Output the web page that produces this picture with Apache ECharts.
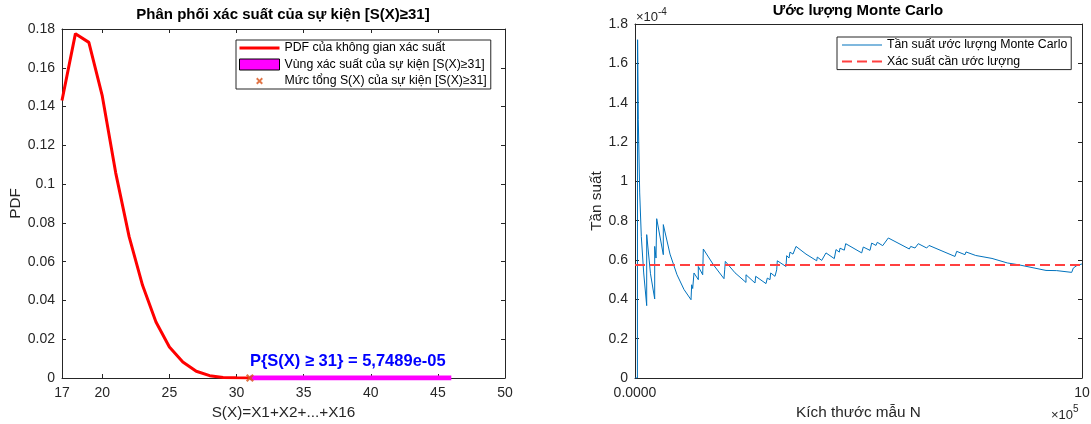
<!DOCTYPE html>
<html>
<head>
<meta charset="utf-8">
<script src="https://cdn.jsdelivr.net/npm/echarts@6/dist/echarts.min.js"></script>
<style>
  html, body { margin: 0; padding: 0; background: #fff; }
  #chart { width: 1091px; height: 424px; }
</style>
</head>
<body>
<div id="chart"></div>
<script>
  // ---- left panel: PDF of S(X) ----
  const pdfX = [17, 18, 19, 20, 21, 22, 23, 24, 25, 26, 27, 28, 29, 30, 31];
  const pdfY = [0.1431, 0.1776, 0.1731, 0.1455, 0.1058, 0.0729, 0.0478, 0.0289, 0.0160, 0.0083, 0.0035, 0.0012, 0.0003, 0.0001, 0.00003];
  const eventFrom = 31;
  const eventTo = 46;
  const eventProbText = 'P{S(X) ≥ 31} = 5,7489e-05';
  const annotY = 0.0085;
  const leftXLabels = [17, 20, 25, 30, 35, 40, 45, 50];
  const leftXTicks = [20, 25, 30, 35, 40, 45];

  // ---- right panel: running Monte Carlo frequency (y in units of 1e-4) ----
  const mcN = [
    0, 5400, 5800, 7383, 10515, 14094, 19463, 26174, 26174, 34675,
    44071, 44071, 46980, 48545, 63310, 63310, 78300, 93960, 109620, 125280,
    126840, 129080, 131990, 141610, 141610, 151450, 152790, 175610, 199100, 200670,
    202010, 223710, 248320, 248320, 268450, 270020, 293060, 295970, 302010, 303570,
    313190, 317000, 318340, 337800, 339370, 344520, 346760, 353460, 360180, 382550,
    406480, 407830, 417670, 427290, 445860, 449660, 457040, 458610, 468230, 471360,
    507150, 510730, 525720, 529520, 539140, 542050, 554130, 566660, 613640, 616770,
    626380, 633770, 652560, 657720, 686800, 715880, 719680, 738250, 740490, 762190,
    764400, 798640, 832870, 835120, 857480, 861280, 919450, 922360, 943390, 946970,
    976950, 980530, 988110, 1000000
  ];
  const mcFreq = [
    0, 0, 1.72, 1.313, 0.941, 0.72, 0.534, 0.368, 0.729, 0.53,
    0.402, 0.669, 0.61, 0.81, 0.627, 0.78, 0.63, 0.525, 0.45, 0.398,
    0.474, 0.455, 0.534, 0.50, 0.567, 0.525, 0.656, 0.575, 0.505, 0.55,
    0.593, 0.535, 0.486, 0.525, 0.483, 0.517, 0.48, 0.508, 0.50, 0.534,
    0.517, 0.55, 0.596, 0.567, 0.622, 0.61, 0.64, 0.63, 0.669, 0.63,
    0.596, 0.615, 0.598, 0.636, 0.607, 0.653, 0.64, 0.66, 0.65, 0.683,
    0.636, 0.666, 0.649, 0.686, 0.674, 0.69, 0.673, 0.712, 0.656, 0.669,
    0.661, 0.683, 0.661, 0.674, 0.646, 0.618, 0.644, 0.627, 0.641, 0.623,
    0.632, 0.608, 0.585, 0.593, 0.576, 0.58, 0.547, 0.556, 0.546, 0.552,
    0.537, 0.559, 0.571, 0.58
  ];
  const trueProb = 0.57489;
  const nMax = 1000000;

  const FONT = 'Liberation Sans, Arial, Helvetica, sans-serif';
  const AX = '#262626';
  // thick "x" marker, and a padded copy so the legend icon stays small
  const xMarker = 'path://M0,2L2,0L5,3L8,0L10,2L7,5L10,8L8,10L5,7L2,10L0,8L3,5Z';
  const xMarkerLegend = 'path://M-3,-3M13,13M0,2L2,0L5,3L8,0L10,2L7,5L10,8L8,10L5,7L2,10L0,8L3,5Z';
  // legend line samples (plain line, no symbol in the middle)
  const iconThick = 'path://M0,0H40V3H0Z';
  const iconThin = 'path://M0,0H40V1H0Z';
  const iconDash = 'path://M0,0H10V2H0ZM15,0H25V2H15ZM30,0H40V2H30Z';

  const nameL1 = 'PDF của không gian xác suất';
  const nameL2 = 'Vùng xác suất của sự kiện [S(X)≥31]';
  const nameL3 = 'Mức tổng S(X) của sự kiện [S(X)≥31]';
  const nameR1 = 'Tần suất ước lượng Monte Carlo';
  const nameR2 = 'Xác suất cần ước lượng';

  function boxAxis(extra) {
    return Object.assign({
      type: 'value',
      axisLine: { show: true, onZero: false, lineStyle: { color: AX, width: 1 } },
      axisTick: { show: true, inside: true, length: 4, lineStyle: { color: AX } },
      axisLabel: { show: false },
      splitLine: { show: false },
      nameTextStyle: { fontSize: 15.3, color: AX, fontFamily: FONT }
    }, extra);
  }
  const lbl = { fontSize: 14, color: AX, fontFamily: FONT };
  const legendText = { fontSize: 12.3, color: '#000', fontFamily: FONT };

  const chart = echarts.init(document.getElementById('chart'), null, { renderer: 'canvas' });
  chart.setOption({
    animation: false,
    backgroundColor: '#fff',
    textStyle: { fontFamily: FONT },
    title: [
      { text: 'Phân phối xác suất của sự kiện [S(X)≥31]', left: 283, top: 7, padding: 0, textAlign: 'center',
        textStyle: { fontSize: 15, fontWeight: 'bold', color: '#000', fontFamily: FONT } },
      { text: 'Ước lượng Monte Carlo', left: 858, top: 3, padding: 0, textAlign: 'center',
        textStyle: { fontSize: 15, fontWeight: 'bold', color: '#000', fontFamily: FONT } }
    ],
    grid: [
      { left: 62, top: 29, width: 443, height: 349, outerBoundsMode: 'none', containLabel: false },
      { left: 635, top: 24, width: 447, height: 354, outerBoundsMode: 'none', containLabel: false }
    ],
    legend: [
      {
        orient: 'vertical', left: 236, top: 40, itemWidth: 40, itemHeight: 11, itemGap: 4.5,
        padding: [2, 4, 2, 3], borderColor: AX, borderWidth: 1, backgroundColor: '#fff',
        selectedMode: false, textStyle: legendText,
        data: [
          { name: nameL1, icon: iconThick, itemStyle: { color: '#FF0000' } },
          { name: nameL2, icon: 'rect', itemStyle: { color: '#FF00FF', borderColor: '#000', borderWidth: 1 } },
          { name: nameL3, icon: xMarkerLegend, itemStyle: { color: '#D95319' } }
        ]
      },
      {
        orient: 'vertical', left: 837, top: 37, itemWidth: 40, itemHeight: 11, itemGap: 4.6,
        padding: [2, 4, 2, 5], borderColor: AX, borderWidth: 1, backgroundColor: '#fff',
        selectedMode: false, textStyle: legendText,
        data: [
          { name: nameR1, icon: iconThin, itemStyle: { color: '#0072BD' } },
          { name: nameR2, icon: iconDash, itemStyle: { color: '#FF4040' } }
        ]
      }
    ],
    xAxis: [
      boxAxis({ gridIndex: 0, min: 17, max: 50, position: 'bottom',
        axisTick: { show: true, inside: true, length: 4, customValues: leftXTicks, lineStyle: { color: AX } },
        axisLabel: Object.assign({ show: true, margin: 8, customValues: leftXLabels }, lbl),
        name: 'S(X)=X1+X2+...+X16', nameLocation: 'middle', nameGap: 26 }),
      boxAxis({ gridIndex: 0, min: 17, max: 50, position: 'top',
        axisTick: { show: true, inside: true, length: 4, customValues: leftXTicks, lineStyle: { color: AX } } }),
      boxAxis({ gridIndex: 1, min: 0, max: nMax, position: 'bottom',
        axisTick: { show: false },
        axisLabel: Object.assign({ show: true, margin: 8, customValues: [0, nMax],
          formatter: v => (v === 0 ? '0.0000' : String(v / 1e5)) }, lbl),
        name: 'Kích thước mẫu N', nameLocation: 'middle', nameGap: 24 }),
      boxAxis({ gridIndex: 1, min: 0, max: nMax, position: 'top', axisTick: { show: false } })
    ],
    yAxis: [
      boxAxis({ gridIndex: 0, min: 0, max: 0.18, interval: 0.02, position: 'left',
        axisLabel: Object.assign({ show: true, margin: 7 }, lbl),
        name: 'PDF', nameLocation: 'middle', nameGap: 39 }),
      boxAxis({ gridIndex: 0, min: 0, max: 0.18, interval: 0.02, position: 'right' }),
      boxAxis({ gridIndex: 1, min: 0, max: 1.8, interval: 0.2, position: 'left',
        axisLabel: Object.assign({ show: true, margin: 7 }, lbl),
        name: 'Tần suất', nameLocation: 'middle', nameGap: 30 }),
      boxAxis({ gridIndex: 1, min: 0, max: 1.8, interval: 0.2, position: 'right' })
    ],
    series: [
      {
        name: nameL1, type: 'line', xAxisIndex: 0, yAxisIndex: 0, symbol: 'none',
        data: pdfX.map((x, i) => [x, pdfY[i]]),
        lineStyle: { color: '#FF0000', width: 3 }, itemStyle: { color: '#FF0000' }
      },
      {
        name: nameL2, type: 'line', xAxisIndex: 0, yAxisIndex: 0, symbol: 'none',
        data: [[eventFrom, 0], [eventTo, 0]],
        lineStyle: { color: '#FF00FF', width: 5 }, itemStyle: { color: '#FF00FF' },
        markPoint: {
          symbol: 'circle', symbolSize: 0, silent: true,
          data: [{
            coord: [eventFrom, annotY],
            label: {
              show: true, position: 'right', distance: 0, formatter: () => eventProbText,
              color: '#0000FF', fontWeight: 'bold', fontSize: 16.5, fontFamily: FONT
            }
          }]
        }
      },
      {
        name: nameL3, type: 'scatter', xAxisIndex: 0, yAxisIndex: 0,
        symbol: xMarker, symbolSize: 8, data: [[eventFrom, 0]],
        itemStyle: { color: '#D95319' }, z: 5
      },
      {
        name: nameR1, type: 'line', xAxisIndex: 2, yAxisIndex: 2, symbol: 'none',
        data: mcN.map((n, i) => [n, mcFreq[i]]),
        lineStyle: { color: '#0072BD', width: 1 }, itemStyle: { color: '#0072BD' }
      },
      {
        name: nameR2, type: 'line', xAxisIndex: 2, yAxisIndex: 2, symbol: 'none',
        data: [[0, trueProb], [nMax, trueProb]],
        lineStyle: { color: '#FF4040', width: 2, type: [10, 5] }, itemStyle: { color: '#FF4040' }
      }
    ],
    graphic: [
      { type: 'text', x: 636, y: 17, style: { text: '×10', fontSize: 13, fill: AX, font: '13px ' + FONT, verticalAlign: 'middle' } },
      { type: 'text', x: 658, y: 12, style: { text: '-4', fontSize: 10, fill: AX, font: '10px ' + FONT, verticalAlign: 'middle' } },
      { type: 'text', x: 1051, y: 415, style: { text: '×10', fontSize: 13, fill: AX, font: '13px ' + FONT, verticalAlign: 'middle' } },
      { type: 'text', x: 1073, y: 409, style: { text: '5', fontSize: 10, fill: AX, font: '10px ' + FONT, verticalAlign: 'middle' } }
    ]
  });
</script>
</body>
</html>
